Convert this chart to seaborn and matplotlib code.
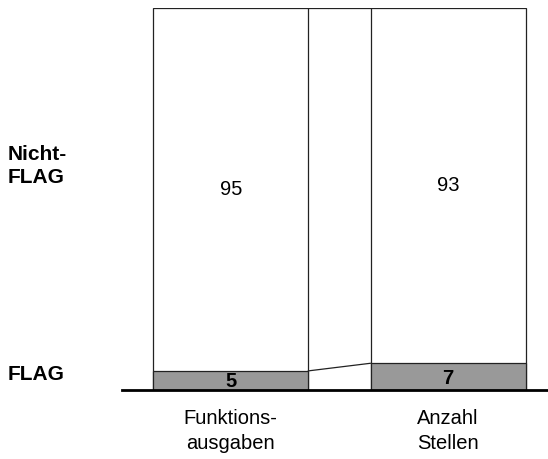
import matplotlib
matplotlib.use("Agg")
import matplotlib.pyplot as plt
import seaborn as sns
import pandas as pd

# Data
categories = ["Funktions-\nausgaben", "Anzahl\nStellen"]
flag = [5, 7]
nicht_flag = [95, 93]
totals = [f + n for f, n in zip(flag, nicht_flag)]

sns.set_style("white")
plt.rcParams["font.family"] = ["Liberation Sans", "DejaVu Sans"]
plt.rcParams["text.color"] = "black"
plt.rcParams["xtick.color"] = "black"

fig = plt.figure(figsize=(5.48, 4.59), dpi=100)
ax = fig.add_axes([122 / 548, 69 / 459, 425 / 548, 382 / 459])

bar_w = 0.713
df = pd.DataFrame({"cat": categories, "total": totals, "flag": flag})

# Stacked bars: full height (white) then FLAG part (gray) on top
sns.barplot(data=df, x="cat", y="total", color="white", edgecolor="#222222",
            linewidth=0.9, width=bar_w, saturation=1, ax=ax)
sns.barplot(data=df, x="cat", y="flag", color="#999999", edgecolor="#222222",
            linewidth=0.9, width=bar_w, saturation=1, ax=ax)

# Series lines between bars
x_conn = [0 + bar_w / 2, 1 - bar_w / 2]
ax.plot(x_conn, flag, color="#222222", lw=0.9)
ax.plot(x_conn, totals, color="#222222", lw=0.9)

# Value labels
for i in range(len(categories)):
    ax.text(i, flag[i] / 2 - 0.4, str(flag[i]), ha="center", va="center",
            fontsize=14.5, fontweight="bold")
    ax.text(i, flag[i] + nicht_flag[i] / 2, str(nicht_flag[i]), ha="center",
            va="center", fontsize=14.5)

ax.set_xlim(-0.5, 1.455)
ax.set_ylim(0, 100)
ax.set_xlabel("")
ax.set_ylabel("")
ax.set_yticks([])
ax.set_xticks([0, 1])
ax.set_xticklabels(categories, fontsize=14.5, linespacing=1.35)
ax.tick_params(axis="x", length=0, pad=14)

for s in ["top", "left", "right"]:
    ax.spines[s].set_visible(False)
ax.spines["bottom"].set_color("black")
ax.spines["bottom"].set_linewidth(2)

# Series names on the left
fig.text(8 / 548, 1 - 166 / 459, "Nicht-\nFLAG", ha="left", va="center",
         fontsize=15, fontweight="bold", linespacing=1.3)
fig.text(8 / 548, 1 - 375 / 459, "FLAG", ha="left", va="center",
         fontsize=15, fontweight="bold")

fig.savefig("out.png", dpi=100)
